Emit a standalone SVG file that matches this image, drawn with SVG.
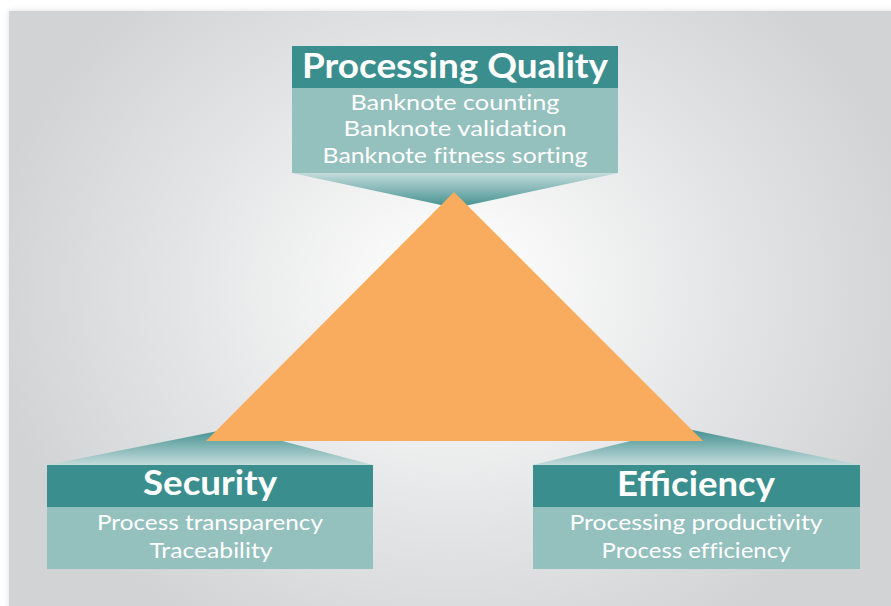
<svg xmlns="http://www.w3.org/2000/svg" width="891" height="606" viewBox="0 0 891 606">
  <defs>
    <radialGradient id="bg" gradientUnits="userSpaceOnUse" cx="455" cy="290" r="470" gradientTransform="translate(455 290) scale(1 0.85) translate(-455 -290)">
      <stop offset="0" stop-color="#ffffff"/>
      <stop offset="0.12" stop-color="#fbfbfb"/>
      <stop offset="0.6" stop-color="#e3e4e5"/>
      <stop offset="1" stop-color="#d2d3d5"/>
    </radialGradient>
    <linearGradient id="funnelDown" x1="0" y1="0" x2="0" y2="1">
      <stop offset="0" stop-color="#c3dbdb"/>
      <stop offset="1" stop-color="#3f8e8e"/>
    </linearGradient>
    <linearGradient id="funnelUp" x1="0" y1="1" x2="0" y2="0">
      <stop offset="0" stop-color="#c3dbdb"/>
      <stop offset="1" stop-color="#3f8e8e"/>
    </linearGradient>
    <filter id="edge" x="-5%" y="-5%" width="110%" height="110%">
      <feGaussianBlur stdDeviation="3"/>
    </filter>
    <style>
      .head { fill: #3b8e8e; }
      .body { fill: #94c0bd; }
      .title { font-family: Lato, "Open Sans", "Liberation Sans", sans-serif; font-weight: 700; font-size: 34px; fill: #ffffff; text-anchor: middle; }
      .item { font-family: Lato, "Open Sans", "Liberation Sans", sans-serif; font-weight: 400; font-size: 21px; fill: #ffffff; text-anchor: middle; font-variant-ligatures: no-common-ligatures; }
    </style>
  </defs>

  <!-- page and shaded panel -->
  <rect x="0" y="0" width="891" height="606" fill="#ffffff"/>
  <rect x="9" y="11" width="890" height="600" fill="#c8c9cb" opacity="0.6" filter="url(#edge)"/>
  <rect x="9" y="11" width="882" height="595" fill="url(#bg)"/>

  <!-- funnels leading from each box to the triangle -->
  <g id="connectors">
    <polygon points="292,173 618,173 455,208" fill="url(#funnelDown)"/>
    <polygon points="47,465 373,465 233,428" fill="url(#funnelUp)"/>
    <polygon points="533,465 860,465 683,428" fill="url(#funnelUp)"/>
  </g>

  <!-- central triangle -->
  <g id="triangle">
    <polygon points="454,192 206,441 703,441" fill="#f9ab5e"/>
  </g>

  <g id="quality">
    <rect class="head" x="292" y="46" width="326" height="42"/>
    <rect class="body" x="292" y="88" width="326" height="85"/>
    <text class="title" x="455" y="78" textLength="306" lengthAdjust="spacingAndGlyphs">Processing Quality</text>
    <text class="item" x="455" y="110" textLength="209" lengthAdjust="spacingAndGlyphs">Banknote counting</text>
    <text class="item" x="455" y="136" textLength="223" lengthAdjust="spacingAndGlyphs">Banknote validation</text>
    <text class="item" x="455" y="163" textLength="265" lengthAdjust="spacingAndGlyphs">Banknote fitness sorting</text>
  </g>

  <g id="security">
    <rect class="head" x="47" y="465" width="326" height="42"/>
    <rect class="body" x="47" y="507" width="326" height="62"/>
    <text class="title" x="210" y="495" textLength="134" lengthAdjust="spacingAndGlyphs">Security</text>
    <text class="item" x="210" y="530" textLength="226" lengthAdjust="spacingAndGlyphs">Process transparency</text>
    <text class="item" x="211" y="558" textLength="123" lengthAdjust="spacingAndGlyphs">Traceability</text>
  </g>

  <g id="efficiency">
    <rect class="head" x="533" y="465" width="327" height="42"/>
    <rect class="body" x="533" y="507" width="327" height="62"/>
    <text class="title" x="696" y="496" textLength="158" lengthAdjust="spacingAndGlyphs">Efficiency</text>
    <text class="item" x="696" y="530" textLength="253" lengthAdjust="spacingAndGlyphs">Processing productivity</text>
    <text class="item" x="696" y="558" textLength="189" lengthAdjust="spacingAndGlyphs">Process efficiency</text>
  </g>
</svg>
